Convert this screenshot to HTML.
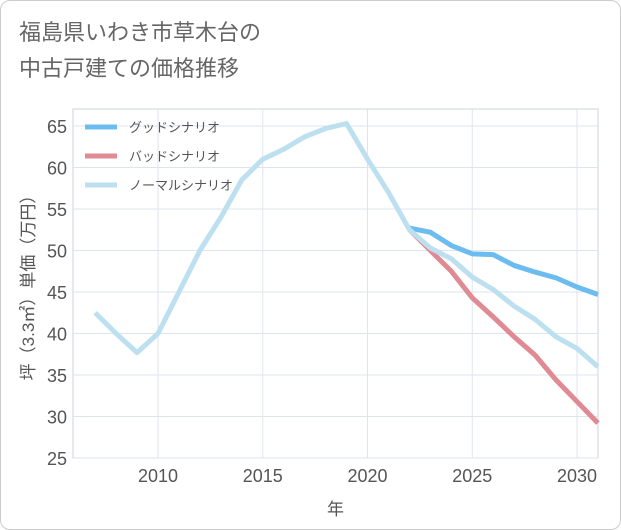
<!DOCTYPE html>
<html><head><meta charset="utf-8">
<style>
body{margin:0;background:#fff;}
#wrap{position:relative;width:619px;height:528px;border:1px solid #ccc;border-radius:10px;background:#fff;overflow:hidden;font-family:"Liberation Sans","Noto Sans CJK JP",sans-serif;}
#title{position:absolute;left:18px;top:14px;font-size:22px;line-height:36px;color:#666;}
svg{position:absolute;left:0;top:0;}
</style></head><body>
<div id="wrap">
<div id="title">福島県いわき市草木台の<br>中古戸建ての価格推移</div>
<svg id="chart" width="621" height="530"></svg>
</div>
<script>
const years=[2007,2008,2009,2010,2011,2012,2013,2014,2015,2016,2017,2018,2019,2020,2021,2022,2023,2024,2025,2026,2027,2028,2029,2030,2031];
const normalVals=[42.5,40,37.7,40,45,50,54,58.5,61,62.2,63.7,64.7,65.3,61,57,52.5,50.3,49,46.8,45.3,43.3,41.7,39.6,38.2,36];
const futureYears=[2022,2023,2024,2025,2026,2027,2028,2029,2030,2031];
const goodVals=[52.7,52.2,50.6,49.6,49.5,48.2,47.4,46.7,45.6,44.7];
const badVals=[52.5,50,47.5,44.3,42,39.6,37.4,34.4,31.8,29.2];
const yTicks=[25,30,35,40,45,50,55,60,65];
const xTicks=[2010,2015,2020,2025,2030];
const legendLabels=["グッドシナリオ","バッドシナリオ","ノーマルシナリオ"];
const colors=["#6cbcf0","#e08a93","#bde0f0"];
const L=72,R=597,T=108,B=457;
const x=v=>157+(v-2010)*(576-157)/20;
const y=v=>457-(v-25)*(457-125)/40;
const svg=document.getElementById('chart');
const NS="http://www.w3.org/2000/svg";
function mk(t,a){const e=document.createElementNS(NS,t);for(const k in a)e.setAttribute(k,a[k]);svg.appendChild(e);return e;}
let e=mk('rect',{x:L,y:T,width:R-L,height:B-T,fill:'none',stroke:'#ccd5dd'});


yTicks.forEach(v=>{
 let g=mk('line',{x1:L,x2:R,y1:y(v),y2:y(v),stroke:'#dde5ec'});
 
 
 let t=mk('text',{x:L-6,y:y(v)+7,'text-anchor':'end','font-size':18,fill:'#555'});
 t.textContent=v;
 
 
});
xTicks.forEach(v=>{
 let g=mk('line',{x1:x(v),x2:x(v),y1:T,y2:B,stroke:'#dde5ec'});
 
 
 let t=mk('text',{x:x(v),y:B+24,'text-anchor':'middle','font-size':18,fill:'#555'});
 t.textContent=v;
 
 
});
function line(xs,vs,c,name){
 const p=mk('polyline',{points:xs.map((yr,i)=>x(yr)+','+y(vs[i])).join(' '),fill:'none',stroke:c,'stroke-width':5,'stroke-linejoin':'round'});
 
 
}
line(futureYears,goodVals,colors[0],'good-scenario-line');
line(futureYears,badVals,colors[1],'bad-scenario-line');
line(years,normalVals,colors[2],'normal-scenario-line');
legendLabels.forEach((s,i)=>{
 const ly=126+i*29;
 let l=mk('line',{x1:84,x2:116,y1:ly,y2:ly,stroke:colors[i],'stroke-width':5});
 
 
 let t=mk('text',{x:128,y:ly+5,'font-size':13,fill:'#555'});
 t.textContent=s;
 
 
});
let yt=mk('text',{x:0,y:0,'font-size':17,fill:'#555','text-anchor':'middle',transform:'translate(33,'+((T+B)/2)+') rotate(-90)'});
yt.textContent='坪（3.3㎡）単価（万円）';


let xt=mk('text',{x:(L+R)/2,y:514,'font-size':17,fill:'#555','text-anchor':'middle'});
xt.textContent='年';


</script>
</body></html>
